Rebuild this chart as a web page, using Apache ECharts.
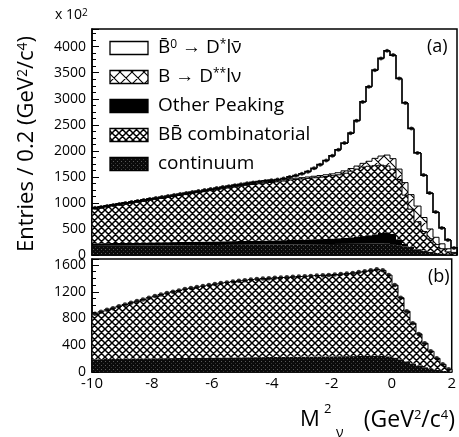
<!DOCTYPE html>
<html><head><meta charset="utf-8">
<script src="https://cdn.jsdelivr.net/npm/echarts@6/dist/echarts.min.js"></script>
<style>html,body{margin:0;padding:0;background:#fff}#c{width:459px;height:437px}</style>
</head><body><div id="c"></div>
<script>
// bin low edges of M^2_nu (0.2 GeV^2/c^4 bins from -10 to 2)
const binLow = Array.from({length: 60}, (_, i) => +(-10 + 0.2 * i).toFixed(1));
const binWidth = 0.2;
const xTicks = [-10, -8, -6, -4, -2, 0, 2];

// ---- panel (a) components (stacked bottom -> top) ----
const contA = [175,176,177,178,178,179,180,181,182,183, 184,185,185,186,187,188,189,190,190,191,
  192,193,194,195,196,197,198,199,200,201, 202,203,204,205,206,207,208,209,210,211,
  212,213,214,215,216,217,218,218,216,210, 190,165,135,105,80,60,42,28,15,6];
const otherA = [50,50,51,52,53,54,55,56,57,58, 59,60,61,62,63,64,65,66,67,68,
  69,70,71,72,73,74,75,76,77,78, 80,82,84,86,88,90,93,96,100,105,
  110,118,126,136,148,162,180,205,220,195, 110,50,25,10,5,2,0,0,0,0];
const bbA = [660,678,694,710,728,744,760,777,793,809, 826,842,859,876,892,908,925,941,958,975,
  990,1007,1021,1037,1051,1067,1080,1093,1103,1113, 1123,1135,1152,1159,1166,1174,1182,1190,1198,1206,
  1218,1240,1270,1299,1326,1326,1317,1302,1274,1245, 1150,935,720,525,365,248,158,92,45,19];
const dssA = [8,8,8,9,9,9,10,10,10,11, 11,11,12,12,12,13,13,13,14,14,
  15,15,16,16,17,17,18,18,19,20, 21,22,23,24,25,27,29,31,33,36,
  40,45,50,58,70,95,141,175,209,200, 200,240,280,300,270,190,140,95,60,25];
const dstarA = [12,12,13,13,13,14,14,14,15,15, 15,16,16,16,17,17,17,18,18,18,
  19,19,20,20,21,21,22,22,23,24, 24,26,37,51,75,102,153,209,274,347,
  440,534,680,872,1180,1430,1694,1875,2001,1990, 1740,1530,1270,1020,815,690,485,305,170,85];
const dataA = [905,924,943,962,981,1000,1019,1038,1057,1076, 1095,1114,1133,1152,1171,1190,1209,1228,1247,1266,
  1285,1304,1322,1340,1358,1376,1393,1408,1422,1436, 1450,1468,1500,1525,1560,1600,1665,1735,1815,1905,
  2020,2150,2340,2580,2940,3230,3550,3775,3920,3840, 3390,2920,2430,1960,1535,1190,825,520,290,135];

// ---- panel (b) components ----
const contB = [190,192,194,196,198,200,201,202,203,204, 205,206,207,208,209,210,211,212,213,214,
  215,216,217,218,219,220,221,222,223,224, 225,226,227,228,229,230,231,232,233,234,
  235,236,237,238,239,240,241,242,240,235, 215,190,160,128,98,72,50,32,17,6];
const bbB = [680,708,736,759,787,810,834,858,882,906, 930,954,973,992,1011,1030,1044,1058,1072,1086,
  1100,1114,1123,1134,1144,1153,1161,1168,1174,1179, 1183,1187,1191,1195,1199,1202,1206,1210,1214,1218,
  1223,1229,1235,1244,1255,1267,1281,1293,1280,1215, 1085,920,750,602,472,358,260,173,98,34];
const dataB = [870,900,930,955,985,1010,1035,1060,1085,1110, 1135,1160,1180,1200,1220,1240,1255,1270,1285,1300,
  1315,1330,1340,1352,1363,1373,1382,1390,1397,1403, 1408,1413,1418,1423,1428,1432,1437,1442,1447,1452,
  1458,1465,1472,1482,1494,1507,1522,1535,1520,1450, 1300,1110,910,730,570,430,310,205,115,40];

const legendNames = ['B\u0304{s|0} \u2192 D{s|*}l\u03BD\u0304', 'B \u2192 D{s|**}l\u03BD', 'Other Peaking', 'BB\u0304 combinatorial', 'continuum'];

// ---- patterns ----
function makePattern(size, draw) {
  const c = document.createElement('canvas'); c.width = size; c.height = size;
  const g = c.getContext('2d'); draw(g, size); return c;
}
function cross(lw, bg) {
  return (g, s) => {
    g.fillStyle = bg; g.fillRect(0, 0, s, s);
    g.strokeStyle = '#000'; g.lineWidth = lw; g.beginPath();
    for (let k = -1; k <= 1; k++) {
      g.moveTo(k * s - 1, -1); g.lineTo(k * s + s + 1, s + 1);
      g.moveTo(k * s + s + 1, -1); g.lineTo(k * s - 1, s + 1);
    }
    g.stroke();
  };
}
const fineHatch = makePattern(7, cross(1.5, '#fff'));
const bigHatch = makePattern(12, cross(1.1, '#fff'));
const dotted = makePattern(4, (g, s) => {
  g.fillStyle = '#0b0b0b'; g.fillRect(0, 0, s, s);
  g.fillStyle = '#5a5a5a'; g.fillRect(1, 1, 1, 1);
  g.fillStyle = '#333'; g.fillRect(3, 3, 1, 1);
});
const pat = img => ({ image: img, repeat: 'repeat' });

// build stacked layers: items [lo, hi, base, top, prevTop, isLast]
function buildStack(layers) {
  const base = binLow.map(() => 0);
  return layers.map(vals => {
    const items = binLow.map((lo, i) => {
      const b = base[i], t = b + vals[i];
      return [lo, +(lo + binWidth).toFixed(1), b, t, 0, i === binLow.length - 1 ? 1 : 0];
    });
    items.forEach((it, i) => { it[4] = i === 0 ? it[2] : items[i - 1][3]; });
    vals.forEach((v, i) => { base[i] += v; });
    return items;
  });
}
const stackA = buildStack([contA, otherA, bbA, dssA, dstarA]);
const stackB = buildStack([contB, bbB]);

function layerSeries(name, items, fill, lw, gi) {
  return {
    name: name, type: 'custom', xAxisIndex: gi, yAxisIndex: gi, silent: true, z: 2,
    encode: { x: [0, 1], y: [2, 3] },
    data: items,
    renderItem: (params, api) => {
      const lo = api.value(0), hi = api.value(1), b = api.value(2), t = api.value(3), prev = api.value(4), last = api.value(5);
      const pB = api.coord([lo, b]), pT = api.coord([hi, t]), pP = api.coord([lo, prev]);
      const x0 = Math.round(pB[0]), x1 = Math.round(pT[0]);
      const children = [{ type: 'rect', shape: { x: x0, y: pT[1], width: x1 - x0, height: pB[1] - pT[1] },
        style: { fill: fill, stroke: null } }];
      if (lw > 0) {
        const ptsL = [[x0, pP[1]], [x0, pT[1]], [x1, pT[1]]];
        if (last) ptsL.push([x1, api.coord([hi, 0])[1]]);
        children.push({ type: 'polyline', shape: { points: ptsL }, style: { stroke: '#000', lineWidth: lw, fill: null }, z2: 5 });
      }
      return { type: 'group', children: children };
    }
  };
}
function pts(vals) { return binLow.map((x, i) => [+(x + 0.1).toFixed(1), vals[i]]); }

const FONT = 'Open Sans';
function xAx(gi, showLabel) {
  return { gridIndex: gi, type: 'value', min: -10, max: 2, interval: 2,
    axisLine: { show: true, onZero: false, lineStyle: { color: '#000', width: 1.5 } },
    axisTick: { show: true, inside: true, length: 6, lineStyle: { color: '#000' } },
    minorTick: { show: true, splitNumber: 4, length: 3, lineStyle: { color: '#000' } },
    splitLine: { show: false },
    axisLabel: { show: showLabel, color: '#000', fontSize: 15, fontFamily: FONT, margin: 4,
      formatter: v => xTicks.includes(v) ? String(v) : '' } };
}
function yAx(gi, max, interval) {
  return { gridIndex: gi, type: 'value', min: 0, max: max, interval: interval,
    axisLine: { show: true, onZero: false, lineStyle: { color: '#000', width: 1.5 } },
    axisTick: { show: true, inside: true, length: 7, lineStyle: { color: '#000' } },
    minorTick: { show: true, splitNumber: 4, length: 4, lineStyle: { color: '#000' } },
    splitLine: { show: false },
    axisLabel: { color: '#000', fontSize: 14, fontFamily: FONT, margin: 6, showMaxLabel: false,
      formatter: v => (v % interval === 0 ? String(v) : '') } };
}

const sup = { fontSize: 13, fontFamily: FONT, verticalAlign: 'top', lineHeight: 13 };
const legendFills = ['#fff', pat(bigHatch), '#000', pat(fineHatch), pat(dotted)];
const graphics = [];
legendNames.forEach((name, i) => {
  const cy = 48 + 29 * i;
  graphics.push({ type: 'rect', shape: { x: 110, y: cy - 6.5, width: 38, height: 13 },
    style: { fill: legendFills[i], stroke: '#000', lineWidth: 1.3 } });
  graphics.push({ type: 'text', x: 158, y: cy, style: { text: name, fontSize: 19, fontFamily: FONT, fill: '#000',
    textVerticalAlign: 'middle', rich: { s: { fontSize: 12, fontFamily: FONT, verticalAlign: 'top', lineHeight: 12 } } } });
});
graphics.push(
  { type: 'text', x: 55, y: 15, style: { text: 'x 10{s|2}', fontSize: 14, fontFamily: FONT, fill: '#000',
    textVerticalAlign: 'middle', rich: { s: { fontSize: 10, fontFamily: FONT, verticalAlign: 'top', lineHeight: 10 } } } },
  { type: 'text', x: 27, y: 144, rotation: Math.PI / 2, style: { text: 'Entries / 0.2 (GeV{s|2}/c{s|4})', fontSize: 22,
    fontFamily: FONT, fill: '#000', textAlign: 'center', textVerticalAlign: 'middle', rich: { s: { fontSize: 14, fontFamily: FONT, verticalAlign: 'top', lineHeight: 14 } } } },
  { type: 'text', x: 300, y: 420, style: { text: 'M', fontSize: 22, fontFamily: FONT, fill: '#000', textVerticalAlign: 'middle' } },
  { type: 'text', x: 324, y: 409, style: { text: '2', fontSize: 13, fontFamily: FONT, fill: '#000', textVerticalAlign: 'middle' } },
  { type: 'text', x: 336, y: 433, style: { text: '\u03BD', fontSize: 14, fontFamily: FONT, fill: '#000', textVerticalAlign: 'middle' } },
  { type: 'text', x: 455, y: 420, style: { text: '(GeV{s|2}/c{s|4})', fontSize: 23, fontFamily: FONT, fill: '#000',
    textAlign: 'right', textVerticalAlign: 'middle', rich: { s: sup } } },
  { type: 'text', x: 427, y: 47, style: { text: '(a)', fontSize: 18, fontFamily: FONT, fill: '#000', textVerticalAlign: 'middle' } },
  { type: 'text', x: 428, y: 277, style: { text: '(b)', fontSize: 18, fontFamily: FONT, fill: '#000', textVerticalAlign: 'middle' } }
);

const option = {
  animation: false,
  backgroundColor: '#fff',
  grid: [
    { left: 92, right: 2, top: 29, height: 226, show: true, borderColor: '#000', borderWidth: 1.5, backgroundColor: 'transparent' },
    { left: 92, right: 2, top: 259, height: 113, show: true, borderColor: '#000', borderWidth: 1.5, backgroundColor: 'transparent' }
  ],
  xAxis: [xAx(0, false), xAx(1, true)],
  yAxis: [yAx(0, 4340, 500), yAx(1, 1690, 400)],
  series: [
    layerSeries('continuum', stackA[0], pat(dotted), 0, 0),
    layerSeries('Other Peaking', stackA[1], '#000', 0, 0),
    layerSeries('BB combinatorial', stackA[2], pat(fineHatch), 1, 0),
    layerSeries('B -> D** l nu', stackA[3], pat(bigHatch), 1, 0),
    layerSeries('B0 -> D* l nu', stackA[4], '#fff', 1.7, 0),
    { name: 'data (a)', type: 'scatter', xAxisIndex: 0, yAxisIndex: 0, symbolSize: 4, itemStyle: { color: '#000' }, data: pts(dataA), z: 5, silent: true },
    layerSeries('continuum (b)', stackB[0], pat(dotted), 0, 1),
    layerSeries('BB combinatorial (b)', stackB[1], pat(fineHatch), 1, 1),
    { name: 'data (b)', type: 'scatter', xAxisIndex: 1, yAxisIndex: 1, symbolSize: 4.5, itemStyle: { color: '#000' }, data: pts(dataB), z: 5, silent: true }
  ],
  graphic: graphics
};
const chart = echarts.init(document.getElementById('c'), null, { renderer: 'canvas' });
chart.setOption(option);
</script>
</body></html>
